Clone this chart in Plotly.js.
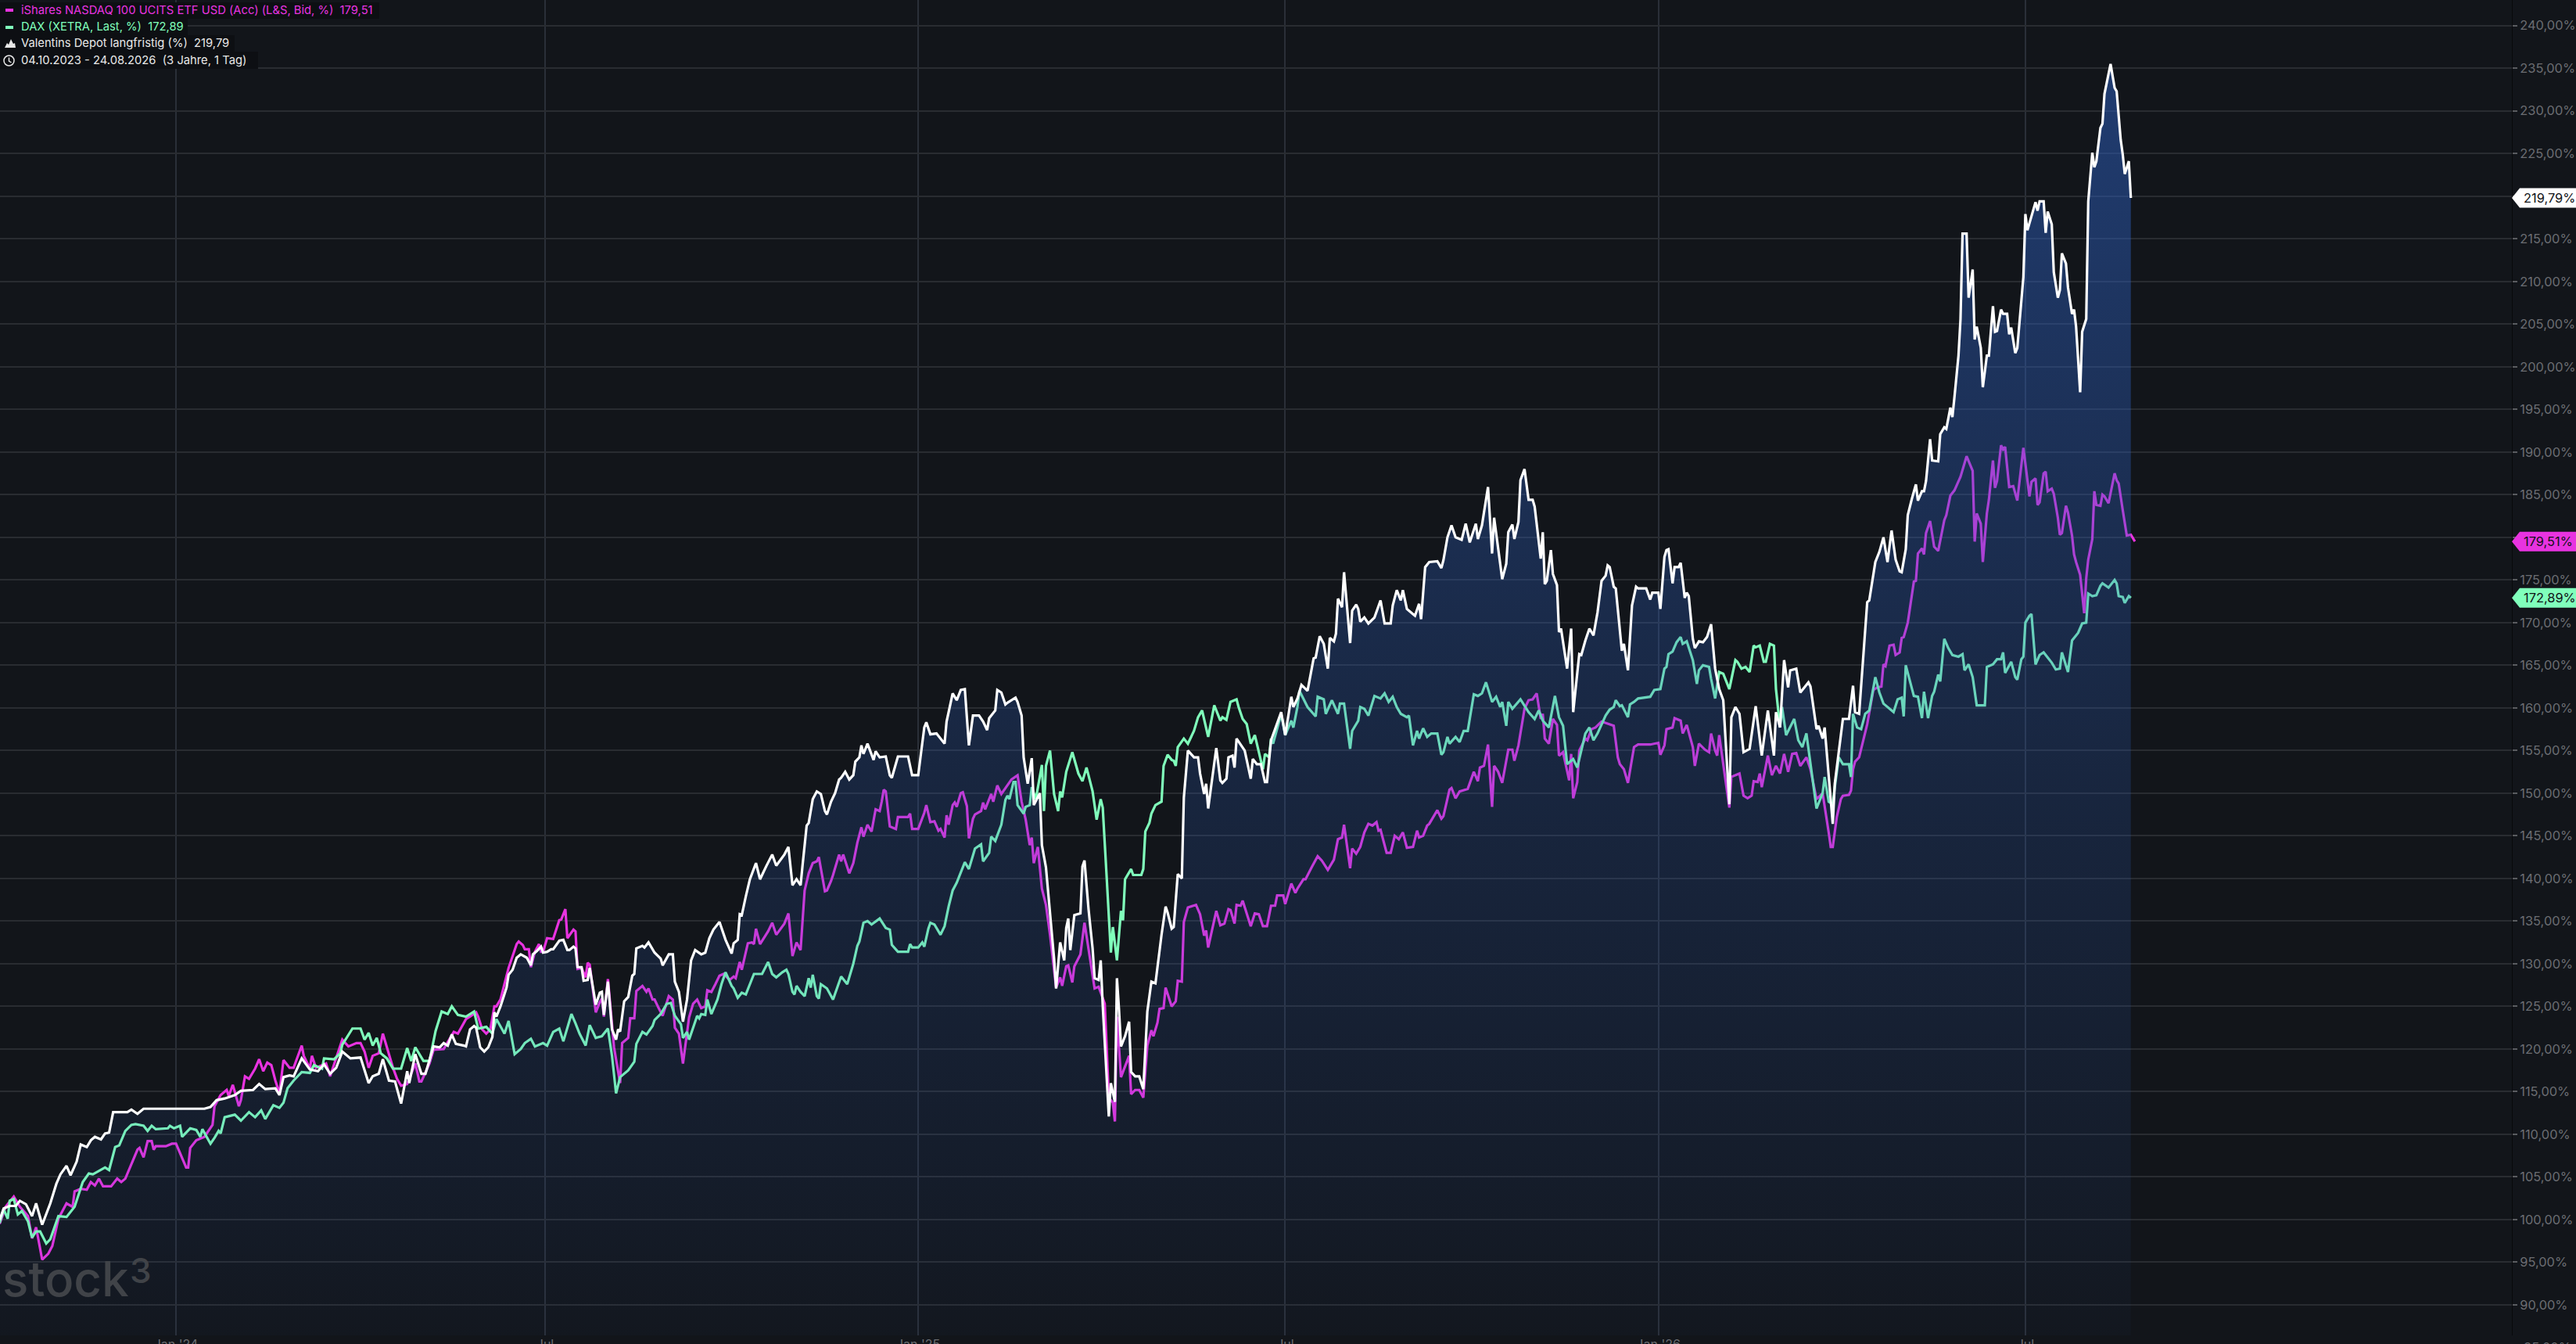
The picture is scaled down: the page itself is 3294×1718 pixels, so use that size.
<!DOCTYPE html>
<html>
<head>
<meta charset="utf-8">
<script src="https://cdn.plot.ly/plotly-3.0.1.min.js"></script>
<style>html,body{margin:0;padding:0;background:#12151a;overflow:hidden}</style>
</head>
<body>
<div id="chart" style="width:3294px;height:1718px"></div>
<script>
// Days are counted from 1 Jan 2024; values are percent.
const depotDays = [-87,-85,-82,-79,-77,-74,-71,-69,-66,-62,-59,-57,-54,-52,-49,-47,-44,-42,-40,-37,-35,-33,-31,-24,-22,-19,-16,14,17,20,24,29,32,38,41,44,49,51,53,56,58,62,66,70,73,76,79,82,86,91,95,97,100,102,105,108,111,114,115,118,121,123,127,130,132,134,136,138,142,143,145,147,148,150,152,154,156,157,158,160,163,164,166,168,170,173,175,176,178,180,181,183,185,186,189,191,193,194,196,197,198,200,201,203,204,207,209,210,211,213,215,217,218,219,221,223,225,226,227,230,231,233,236,239,240,243,245,246,248,250,252,254,256,259,261,263,265,268,271,274,275,277,278,279,281,283,286,288,291,294,296,300,302,304,306,308,309,311,312,314,316,318,320,321,323,325,327,328,330,332,334,335,337,338,339,341,344,345,347,350,352,353,356,361,363,366,369,370,372,375,379,380,383,385,387,389,391,393,396,398,400,401,404,405,407,409,410,414,415,417,418,420,422,423,426,427,429,431,433,434,436,438,439,440,441,443,446,447,448,450,452,453,455,456,457,460,461,463,464,465,466,468,470,471,473,475,477,479,481,483,484,486,488,489,491,492,494,496,497,499,502,504,505,507,508,509,513,515,516,518,519,521,522,523,527,530,531,533,535,537,538,540,545,546,547,550,551,553,555,558,559,561,562,564,566,568,569,571,572,573,575,576,579,580,582,583,584,586,588,590,591,594,596,599,600,602,604,605,607,610,611,613,614,616,618,622,624,625,627,629,631,634,636,638,641,642,644,647,649,650,652,654,656,657,659,660,662,663,665,667,669,670,673,674,675,676,678,679,681,682,683,686,688,689,690,692,693,695,697,699,701,703,705,706,707,709,710,712,713,714,716,718,720,721,725,727,728,731,732,734,735,736,738,739,741,742,744,745,746,748,749,751,753,755,757,759,761,763,766,767,769,771,773,776,779,782,785,788,789,791,793,795,796,799,801,805,806,809,810,812,813,817,818,821,822,825,827,828,830,834,835,838,840,842,844,846,848,850,851,853,854,856,858,859,861,862,863,865,866,869,870,872,873,875,876,877,879,880,881,883,884,886,887,888,890,891,893,894,896,897,898,900,901,903,904,905,907,908,911,912,913,917,918,919,921,922,923,925,926,928,929,930,932,933,935,936,937,939,940,942,943,945,946,947,949,950,951,954,956,957,959,960,961,963,964,966];
const depotValues = [99.95,101.3,101.6,101.6,102.2,101.8,100.4,101.9,99.4,101.9,104.2,105.3,106.3,105.2,106.8,108.8,108.5,109.3,109.7,109.4,110.1,110.2,112.6,112.6,112.9,112.4,113,113,113.2,114,114.2,114.6,115.1,115.2,115.9,115.3,115.4,114.6,116.7,116.9,116.8,118.9,117.6,117.4,118.2,117.1,117.8,119.7,118.9,119,116,116.8,117.1,118.8,116.3,116.2,113.6,117.4,116,119.4,117.1,117.1,120.3,120.2,120.7,120.4,121.7,120.6,120.4,120.3,122.3,122.7,122.5,120.2,119.7,120.2,121.4,124.3,123.8,125,127.2,128.7,129.3,130.7,131.1,130.7,129.8,131.1,131.5,132,131.3,131.4,131.7,131.7,132.7,132.8,131.6,131.6,132,131.8,129.6,129.6,128,128.1,129.5,125.2,126.6,126.7,124,127.9,122.3,121.1,122.3,122.05,125.6,126.1,128.6,128.8,131.8,132.1,131.9,132.5,131.3,130.6,129.8,131.1,131.1,127.9,126.7,123.2,125.8,130.4,131.6,131.1,131.3,133,134,134.9,132.8,131.2,132.4,132.8,135.8,135.7,137.9,139.9,141.8,139.9,141.4,142.8,141.5,142.8,143.7,139.2,139.9,139.2,141.6,146.2,146.5,149.3,150.2,149.9,147.9,147.5,149,150,151.6,151.8,152.5,151.6,152.1,153.7,154.2,155.6,154.6,155.8,153.9,154.9,154.2,154.3,152.1,151.8,154.3,154.3,152.1,152.1,157.7,158.3,156.9,157,155.8,158.4,161.7,160.9,162.1,162.2,155.6,159.1,159.1,158.4,157.4,158.8,159.7,162.1,161.8,160.4,160.6,161.2,160.7,159.1,154.2,151.1,154.1,148.6,150,143.9,141.3,136,130.6,127.1,132.5,130.4,134.2,135.3,131.6,135.7,135.9,141.4,142.1,136.4,131.8,128.3,128.1,130.4,125.1,112.1,116,113.8,128.3,124.7,120.3,121.5,123.2,117.3,116.8,116.8,115.3,124.4,127.9,127.7,129.7,133.4,136.7,136,134.1,134.3,140.5,140,149.5,155,154.2,154.2,152.3,149.9,151.1,148.2,155.3,151.5,151.2,151.7,154.2,154.4,153,156.4,155,151.7,154,153.4,153.4,151.3,151.3,156.2,159.5,158.1,156.8,161.3,160.1,161.1,162.7,162,163.4,165.8,165.9,168.4,167.5,164.6,168.2,167.8,168.7,172.8,171.8,175.9,167.6,171.4,172.1,171.6,170.1,170.6,169.9,170.4,170.6,172.6,169.9,169.9,172,173.8,172.6,173.8,171.6,171,170.8,172.2,170.4,176.5,177.1,177.2,176.4,177.3,180,181.4,180,179.7,181.6,179.4,181.6,179.8,181.4,185.9,178.1,182.3,178.9,175.1,176.9,180.6,181.5,179.8,181.8,186.7,188,184.4,184.4,183.6,177.5,180.6,174.5,174.9,178.5,175.7,174.4,168.9,169.3,164.6,169.3,159.5,161.8,166.3,166.2,167.9,169.3,168.5,171.2,174.9,175.5,176.7,176.5,174.2,174,169.3,166.7,167.5,164.4,172,174.2,174,174,172.7,173.5,173.5,171.6,177.7,178.5,178.6,174.6,176.5,176.5,177,172.9,173.5,173.1,168.1,167,167.8,167.7,168.3,169.8,164.6,162.2,160.9,148.7,158.9,160.1,159.3,154.8,155.2,160.2,154.4,159.7,154.4,159.5,157.7,165.6,162.4,164.4,164.6,161.8,163,162.5,157.5,157.9,156.4,157.7,146.4,151.1,156.8,158.7,158.7,162.6,159.5,159.3,172.4,172.6,177.1,178.3,180,177.1,180.8,177.4,176,175.9,178.6,182.6,184.5,186.2,184.3,185.4,185.4,186.6,191.5,189,188.9,192.1,192.9,192.7,195.2,194.1,196.4,201.3,205.6,215.6,215.6,208.1,211.4,203.2,204.7,202.2,197.6,201.3,201.3,207.1,204.1,204.2,206.7,206.2,206.2,203.8,204.6,201.6,202.2,210.5,217.9,216,219.3,218.3,219.4,219.4,215.7,218.2,216.7,211.1,208.1,209,213.3,212.1,209.3,206.2,206.7,204.7,197,204.1,205.6,219.4,225.1,223.4,224.1,228,228.5,232,235.5,232.7,232.3,226.6,224.9,222.6,224.1,219.79];

const nasdaqDays = [-87,-84,-80,-77,-73,-71,-69,-66,-63,-61,-58,-54,-51,-50,-47,-44,-42,-40,-38,-36,-32,-29,-27,-25,-19,-18,-16,-14,-12,-11,-10,-5,-2,0,5,6,7,10,14,16,18,19,22,25,26,28,31,32,34,36,39,41,43,45,47,49,51,53,56,58,60,62,63,66,67,69,74,76,82,85,89,91,93,95,97,100,102,105,107,109,111,114,118,120,121,125,127,132,137,139,143,145,148,149,151,153,155,157,158,160,162,164,168,169,171,172,174,175,177,179,180,181,183,186,189,190,192,193,196,197,198,200,202,203,204,207,209,210,211,213,216,218,219,220,223,224,226,227,230,232,233,235,236,238,240,243,245,246,248,250,253,255,257,259,261,262,264,266,268,270,273,275,276,278,279,282,284,285,286,288,292,294,296,300,302,304,306,308,310,312,314,316,317,320,321,323,324,327,328,329,332,334,336,338,339,341,343,345,347,348,349,350,352,355,356,361,362,363,366,369,370,372,374,376,377,379,380,381,383,384,385,387,388,390,391,393,394,397,398,399,402,403,405,407,410,412,415,417,419,421,422,423,425,427,429,431,434,436,437,439,440,442,443,446,448,453,455,458,460,462,463,464,466,468,470,471,473,475,477,479,481,482,484,485,487,488,491,493,494,496,497,499,503,505,507,508,509,513,515,517,519,520,522,523,525,526,530,532,534,536,538,540,542,543,546,547,550,552,553,556,557,560,563,565,568,571,573,575,576,579,580,582,584,586,588,590,592,593,594,597,599,601,603,605,607,610,612,613,615,617,618,622,624,625,628,629,631,633,637,640,642,643,645,647,649,650,652,654,657,659,660,662,665,667,669,671,673,674,675,677,679,681,682,684,687,688,689,691,692,695,696,698,700,703,709,711,712,714,716,719,721,727,730,731,732,734,735,738,739,742,743,745,748,749,751,754,756,757,759,760,761,763,766,767,769,771,773,775,777,778,780,781,782,785,787,789,791,793,795,797,799,801,804,806,809,812,815,816,817,819,821,822,825,826,827,828,830,834,837,839,841,842,843,845,847,848,850,851,852,854,857,858,859,861,862,863,865,866,867,869,872,873,875,877,879,880,883,884,886,887,888,890,891,893,894,896,897,898,900,901,902,904,906,908,911,914,915,917,918,919,921,922,923,925,926,928,929,930,932,933,935,936,937,939,941,942,943,945,946,947,949,950,951,953,956,957,958,960,962,964,966];
const nasdaqValues = [99.5,101.5,102.7,101.5,100.4,97.8,99.1,95.3,96,96.9,100.1,101.9,101.5,103.3,103.6,103.5,104.4,104,104.8,103.9,103.9,104.8,104.4,104.8,108.2,108.4,107.3,109.2,109.2,108.2,108.6,108.6,108.9,108.9,106.1,106.1,108.4,109.3,109.7,110.4,111.1,113.3,114.6,115.2,114.5,115.8,113.3,114,116.8,116.5,117.7,118.8,117.4,118.4,118.1,116.3,114.8,118.7,117.8,117.8,119.2,120.4,119.2,117.7,119.2,117.8,118.3,116.8,121.1,120.3,120.7,120.7,119.7,117.8,119.2,119.5,121.8,119.4,117.8,116.5,115.7,115.9,118.3,116.2,116.2,118.3,119.9,120,122,121.8,123.5,123.8,124.3,123.8,122.3,121.8,122.3,125,125,125.8,127.6,129.5,132.3,132.6,132.2,131.7,131.7,129.6,131.4,132.3,131.4,131.4,133,132.9,135.1,135.2,136.4,133,134,133.8,129.4,129.5,128.4,130.1,129.9,124.3,125.5,125.9,123.8,128.2,120.2,117.4,116,120.7,121.3,123.6,123.6,126.8,127.4,126.7,127.1,125.8,125.8,124.8,123.9,126.2,125.8,122.5,121.8,118.3,123.7,125.3,125.8,124.8,125,126.9,126.7,127.6,128.6,128.8,128.1,128.5,128.3,130.2,129.3,132.4,132.5,132.3,134.1,132.3,133.8,134.8,133.4,134.7,135.9,130.9,132.5,131.6,138.6,140.6,141.8,142,142.5,138.5,138.6,139.7,140.4,142.8,142,142.8,140.6,141.8,144.2,146,144.9,146.3,145.5,148.1,147.9,149,150.4,150.2,146.1,145.8,147.2,147.2,147.6,145.8,145.8,147.7,148.6,146.6,146.7,145.6,145.8,144.8,147.4,146.3,148.6,148.9,148.4,150,150.1,148.5,144.7,147,147.5,147.9,148.9,148.1,149.9,149,150.9,149.9,150.9,151.6,152.1,149,146.9,143.9,144.8,141.8,143.7,138.8,136.9,133.4,127.2,128.4,127.4,129.7,129.8,127.8,129.7,131.1,134.8,127.1,127.3,125.3,114.3,113.7,111.5,123.8,116.7,117.9,119.2,114.7,115.2,115.2,114.3,120.4,122.2,121.5,123.1,124.7,124.8,127.2,125,125.6,128,127.9,134.9,136.6,136.9,135.8,133.3,133.9,131.9,136.2,134.5,134.7,136.4,136.3,134.7,136.9,136.8,137.4,134.4,135.9,135.8,134.4,134.4,136.8,136.8,138,138,137,139.4,138.3,138.8,139.9,139.9,141.3,142.6,142.1,141,142.2,144.6,144.8,146.3,141.2,143.5,142.9,143.7,145.4,146.4,146.2,146.6,145.6,145.7,143,143,145,144.6,145.4,143.6,143.7,145.6,144.8,145,146.2,146.4,148,147,147.3,150.4,150.6,149.4,150.2,150.5,152.5,151.4,153,153.2,155.7,148.4,153.2,152.5,151.2,155.1,155.1,153.8,155.6,159.9,160.9,161,161.7,158.7,159.3,156.4,155.8,158.7,158,154.4,154.8,151.5,154.6,149.4,151.3,155,156.4,156.2,157.5,157.7,158.4,157.9,154.2,153.4,152.8,151.2,155.4,155.7,155.7,155.9,155.9,154.5,155.6,157.5,157.7,158.8,158.5,157,158,155.4,153.2,155.8,155.1,154.8,157,155,154.4,156.8,153.4,148.3,151.9,152.1,152.3,149.7,149.4,149.7,151.4,151.3,152.3,150.7,154.4,152.1,153.2,152.3,154.6,152.5,154.6,154.7,153.2,154.2,152.8,149.3,150,145.4,143.7,143.7,147.2,149.3,149.7,149.8,150.3,152.8,153.7,154.2,158.1,162.1,162.4,162.5,165.1,164.9,167.3,167.4,166.2,166.5,168.2,168.3,170,174.8,174.9,178.1,178.7,178,180.5,181.9,180.3,178.9,178.4,182,182.6,184.9,185.5,186.7,187.1,189.5,188.9,187.8,179.5,182.8,181.6,177.1,182.8,184.4,189,185.8,186.6,190.8,190.3,190.6,185.9,186,184.3,190.5,184.8,186.5,186.9,183.8,184.1,187.5,187.7,185.4,185.7,185.1,182.3,180.3,180.5,183.7,182.9,180.2,178,177.1,175.6,171.1,175.2,177.4,179.8,185.4,183.8,183.7,185,184.8,184,187.5,186.7,186.3,183.2,180.2,180.3,179.51];

const daxDays = [-87,-85,-83,-82,-80,-78,-76,-73,-71,-69,-67,-64,-62,-58,-54,-50,-46,-43,-41,-35,-33,-30,-28,-25,-22,-20,-16,-14,-12,-10,-4,-3,-1,2,3,7,10,12,13,17,19,21,22,24,29,32,36,39,42,44,48,51,53,55,58,62,66,68,72,73,78,81,82,87,91,93,95,97,99,101,104,107,111,114,116,118,122,125,128,131,134,136,139,143,147,149,153,156,158,162,164,167,170,172,175,177,181,183,186,189,191,195,197,199,202,204,207,210,213,215,217,219,223,226,227,230,232,235,236,239,242,244,246,249,250,252,253,257,258,259,261,262,264,267,269,271,274,275,277,279,281,283,285,289,292,294,296,299,301,302,304,305,306,308,310,312,313,314,316,317,318,321,324,328,331,334,336,337,339,341,343,347,350,352,353,356,361,362,363,366,368,369,371,372,374,377,379,381,383,385,389,391,394,397,398,401,402,404,407,409,410,411,413,414,415,418,419,421,422,424,425,427,428,429,431,433,435,436,437,439,442,445,447,449,452,454,456,457,459,461,462,464,466,467,468,470,471,472,476,477,478,480,481,483,486,487,489,491,492,493,494,497,499,502,504,506,509,512,514,515,516,518,520,523,524,526,528,530,532,534,536,537,539,540,541,545,547,550,551,553,554,558,562,563,566,567,570,573,574,576,579,580,583,584,586,588,591,594,596,598,600,602,604,607,608,610,612,613,615,617,619,622,624,625,627,628,631,633,635,637,640,642,644,646,649,651,653,654,656,657,659,663,665,667,670,672,674,677,680,682,684,686,689,691,695,697,699,701,705,707,709,710,712,713,716,717,719,721,727,729,732,734,735,736,738,740,742,743,745,748,750,751,753,756,757,759,761,763,766,769,770,772,774,776,778,779,781,783,784,786,788,789,791,792,794,798,800,802,804,806,809,812,813,815,817,818,820,822,825,826,827,829,831,833,835,838,840,842,845,847,849,851,852,853,857,859,861,862,864,866,867,869,870,872,874,876,879,881,882,884,886,888,892,893,896,898,900,901,902,905,907,908,910,911,912,914,915,917,919,921,925,927,929,930,933,935,937,938,940,942,943,945,947,949,950,953,956,957,958,960,961,963,964,966];
const daxValues = [99.6,101.2,100.1,102.2,102.4,100.6,101,99.8,97.9,98.6,98.6,97.2,97.7,100.4,100.3,101.5,104.4,105.4,105.3,106.1,105.8,108.5,108.7,110.4,111.1,111.2,111,110.4,111,110.6,110.7,111,110.7,111,109.7,110.7,110.5,109.7,110.6,108.9,109.6,110.4,110.1,112,112.3,111.6,112.6,112,112.8,111.8,113.4,113.1,113.7,115.4,116.3,117.3,117.2,118.1,117.7,118.9,118.8,119.5,120.5,122.4,122.4,121.1,121.9,120.4,121.3,119.5,118.9,117.7,117.7,120.1,118.6,120.2,118.6,118.6,122.1,124.4,124.1,125,124,123.8,124.4,122.4,122.6,121.8,123.5,121.8,123.3,119.4,120,120.7,121.2,120.3,120.7,120.4,122,122.4,120.9,124.1,123,121.8,120.4,122.8,121.3,121.5,122.4,119.2,114.8,116.7,117.5,118.5,120.6,122,121.7,122.7,123.4,124.1,125.3,125.4,123.9,122.9,121.3,122,121.1,123.9,123.6,124.1,124,125.8,124.1,125.8,127.6,129,127.4,127.1,126,126.6,126.4,127.6,128.8,128.8,130.2,128.8,128.4,129,129.3,128.8,126.7,126.4,127.4,126.7,126.2,128.3,127.2,128.7,126.2,125.9,127.6,127.1,125.8,128.5,127.6,130,132.1,132.6,134.8,135,134.6,135.3,134.2,134,132.2,131.4,131.4,132.3,131.9,131.9,132.5,132,134.1,134.8,134.6,133.4,134.4,136.7,138.6,139.5,141.9,141.1,143.5,144,142,143,144.9,144.4,146.3,149.2,149.7,149.3,151.3,151.3,148.6,147.6,148.4,148.6,150.7,149.3,150.7,153.3,147.9,153.2,155,149.9,147.9,150.2,149.5,152.5,154.8,152.3,151.4,153,150.2,146.9,149.3,148.3,139.9,131.3,134.3,130.4,136.2,135.1,139.9,140.7,141.1,140.4,140.4,141.1,145.5,146.5,147.6,148.6,149,153.2,154.5,153.9,153.8,153.2,155.4,156.4,155.8,157.3,158.9,159.7,156.6,160.3,159.1,158.5,158.9,158.6,160.7,161,160.1,158.7,158.1,155.8,156.8,154.8,152.8,154.6,154.2,156.4,155.8,159.3,156.8,158.5,157.7,160.1,162,160.1,159,161.3,161,159.3,160.9,159.3,160.5,160.5,155.2,157.3,158.5,160.1,159.9,159.1,161.4,161.1,161.7,160.7,161.3,160.1,159.3,158.9,159.1,155.6,157.3,156.4,157.6,156.6,157,157,154.5,154.8,156.6,155.8,156.6,156,157.3,157.3,161.6,161.4,161.7,163,160.7,161.3,160.1,160.7,157.9,160.7,159.9,161,160.3,159.5,158.7,159.7,158.5,157.7,161.4,158.9,157.9,153.4,154,153,157,157.7,156.2,157,159.1,159.8,160.1,160.9,160.2,160.3,158.9,160.4,160.7,161.1,161.3,162.1,162.2,164.6,164.8,166.3,166.6,167.7,168.3,167.5,167.8,165.6,162.8,164.4,165,164.8,163.4,161.1,164.2,164,162.2,165.6,165.4,164.6,164.8,164.2,167.3,167.1,167.3,165.4,165.4,167.5,167.3,162.2,157.7,160.1,156.8,158.7,156.2,155.4,157,153.6,148.2,150,151.9,149,148.7,150.7,154.2,153.4,153.4,151.9,159.3,157.7,157.5,159.3,159.7,163.6,161.8,160.5,159.9,159.5,161,161.2,159,165,161.4,161.3,158.8,161.9,158.8,161.4,161.9,163.9,163.1,168.1,167,166.2,166,166.3,164.4,165.1,163.6,160.3,160.3,164.8,165.1,165.7,165.7,166.5,164.1,165.4,163.6,163.3,165.7,166,170,170.8,171,165.1,166.2,166.5,165.3,164.5,164.6,166.5,164.2,167.9,168.5,168.8,169.9,170,173.4,173.1,173.2,174.3,174.6,174.1,175,174.6,173.1,173,172.3,173.1,172.89];

const monthTickDays = [0,182,366,547,731,912];
const monthTickLabels = ["Jan '24","Jul","Jan '25","Jul","Jan '26","Jul"];
const percentTicks = [90,95,100,105,110,115,120,125,130,135,140,145,150,155,160,165,170,175,180,185,190,195,200,205,210,215,220,225,230,235,240];
const legendRows = ["iShares NASDAQ 100 UCITS ETF USD (Acc) (L&S, Bid, %)  179,51","DAX (XETRA, Last, %)  172,89","Valentins Depot langfristig (%)  219,79","04.10.2023 - 24.08.2026  (3 Jahre, 1 Tag)"];

const W=3294,H=1718,PW=3212,PH=1707;
const iso = d => new Date(Date.UTC(2024,0,1)+d*864e5).toISOString().slice(0,19).replace('T',' ');
const px = x => x/PW;
const py = y => 1-y/PH;
const MAGENTA='#e833e0',MINT='#80ffbb',WHITE='#ffffff';
const lastOf = a => a[a.length-1];
const lab = v => v.toFixed(2).replace('.',',')+'%';

const traces=[
 {type:'scatter',mode:'lines',name:'iShares NASDAQ 100',x:nasdaqDays.map(iso),y:nasdaqValues,line:{color:MAGENTA,width:3.2,shape:'linear'},hoverinfo:'skip'},
 {type:'scatter',mode:'lines',name:'DAX',x:daxDays.map(iso),y:daxValues,line:{color:MINT,width:3.2,shape:'linear'},hoverinfo:'skip'},
 {type:'scatter',mode:'lines',name:'Valentins Depot',x:depotDays.map(iso),y:depotValues,line:{color:WHITE,width:3.2,shape:'linear'},hoverinfo:'skip',
  fill:'tozeroy',
  fillgradient:{type:'vertical',start:86,stop:235,colorscale:[[0,'rgba(45,95,190,0.03)'],[0.127,'rgba(45,95,190,0.10)'],[0.436,'rgba(45,95,190,0.225)'],[1,'rgba(45,95,190,0.53)']]}}
];

const rowBoxes=[[0,3,485,24],[0,24,240,45],[0,45,300,66],[0,66,330,88]];
const shapes=rowBoxes.map(b=>({type:'rect',xref:'paper',yref:'paper',x0:px(b[0]),x1:px(b[2]),y0:py(b[1]),y1:py(b[3]),fillcolor:'#0d0f13',line:{width:0},layer:'above'}));
const legendIcon=(c,y)=>({type:'rect',xref:'paper',yref:'paper',x0:px(7),x1:px(17),y0:py(y-2),y1:py(y+2),fillcolor:c,line:{width:0},layer:'above'});
shapes.push(legendIcon(MAGENTA,13),legendIcon(MINT,35));
const P=(x,y)=>px(x)+' '+py(y);
shapes.push({type:'path',xref:'paper',yref:'paper',path:`M ${P(6,61)} L ${P(9,55)} L ${P(11,57)} L ${P(14,50)} L ${P(17,56)} L ${P(19,55)} L ${P(20,61)} Z`,fillcolor:'#e8e8e8',line:{width:0},layer:'above'});
shapes.push({type:'circle',xref:'paper',yref:'paper',x0:px(5),x1:px(18),y0:py(71),y1:py(84),line:{color:'#e8e8e8',width:1.5},layer:'above'});
shapes.push({type:'path',xref:'paper',yref:'paper',path:`M ${P(11.5,73.5)} L ${P(11.5,78)} L ${P(14.5,80)}`,line:{color:'#e8e8e8',width:1.5},layer:'above'});

const tagColor=[[lastOf(depotValues),WHITE],[lastOf(nasdaqValues),MAGENTA],[lastOf(daxValues),MINT]];
const unit=12.5/10.902;
const tipR=1+82/PW, sh=1+10/PW;
tagColor.forEach(t=>{const v=t[0];
 shapes.push({type:'path',xref:'paper',yref:'y',path:`M 1 ${v} L ${sh} ${v+unit} L ${tipR} ${v+unit} L ${tipR} ${v-unit} L ${sh} ${v-unit} Z`,fillcolor:t[1],line:{width:0},layer:'above'});
});

const annos=[];
const legendColors=[MAGENTA,MINT,'#e8e8e8','#e8e8e8'];
const legendY=[13,34,55,77];
legendRows.forEach((t,i)=>annos.push({xref:'paper',yref:'paper',x:px(26),y:py(legendY[i]),xanchor:'left',yanchor:'middle',text:t.replace(/  /g,'\u00a0\u00a0'),showarrow:false,font:{family:'Inter, sans-serif',size:14.75,color:legendColors[i]},borderpad:0}));
tagColor.forEach(t=>annos.push({xref:'paper',yref:'y',x:1,xshift:14,y:t[0],xanchor:'left',yanchor:'middle',text:lab(t[0]),showarrow:false,font:{family:'Inter, sans-serif',size:16.4,color:'#101216'},borderpad:0}));
annos.push({xref:'paper',yref:'paper',x:px(3226),y:py(1722),xanchor:'left',yanchor:'middle',text:'85,00%',showarrow:false,font:{family:'Inter, sans-serif',size:16.4,color:'#6b6d72'},borderpad:0});
annos.push({xref:'paper',yref:'paper',x:px(2),y:py(1634),xanchor:'left',yanchor:'middle',text:'stock',showarrow:false,font:{family:'Inter, sans-serif',size:62,weight:500,color:'#404348'},borderpad:0});
annos.push({xref:'paper',yref:'paper',x:px(165),y:py(1624),xanchor:'left',yanchor:'middle',text:'3',showarrow:false,font:{family:'Inter, sans-serif',size:44,weight:500,color:'#404348'},borderpad:0});

const layout={
 width:W,height:H,margin:{l:0,r:W-PW,t:0,b:H-PH,pad:0},
 paper_bgcolor:'#12151a',plot_bgcolor:'#12151a',showlegend:false,
 xaxis:{type:'date',range:[iso(-86.8),iso(1151.9)],tickmode:'array',tickvals:monthTickDays.map(iso),ticktext:monthTickLabels,
  showgrid:true,gridcolor:'#2a2f38',gridwidth:2,zeroline:false,showline:false,ticks:'',tickfont:{family:'Inter, sans-serif',size:16,color:'#6b6d72'},fixedrange:true},
 yaxis:{side:'right',range:[86.42,243],tickmode:'array',tickvals:percentTicks,ticktext:percentTicks.map(lab),showgrid:true,gridcolor:'#292c31',gridwidth:2,zeroline:false,
  showline:true,linecolor:'#08090b',linewidth:1,ticks:'outside',ticklen:6,tickwidth:2,tickcolor:'#5a5c60',tickfont:{family:'Inter, sans-serif',size:16.4,color:'#6b6d72'},fixedrange:true},
 shapes:shapes,annotations:annos
};
Plotly.newPlot('chart',traces,layout,{displayModeBar:false,staticPlot:true});
</script>
</body>
</html>
